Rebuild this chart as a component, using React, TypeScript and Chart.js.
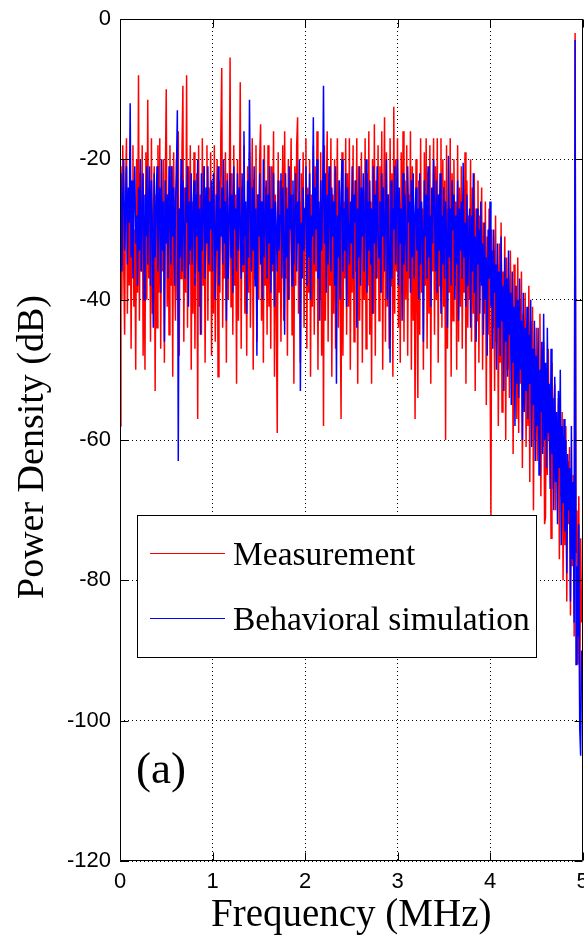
import { useEffect, useRef } from "react";
import { Chart, registerables } from "chart.js";

Chart.register(...registerables);

// Frequency bins are spaced 0.01 MHz apart, starting at 0 MHz.
const FREQ_STEP_MHZ = 0.01;

// Measured power density (dB), red trace (one row = 0.1 MHz)
const measurement: number[] = [
  -58, -21, -40, -18, -35, -45, -24, -17, -42, -27,
  -38, -19, -47, -26, -18, -41, -30, -50, -20, -39,
  -8, -43, -22, -36, -18, -48, -28, -50, -19, -40,
  -11.5, -37, -24, -46, -17, -42, -29, -21, -53, -25,
  -44, -18, -39, -17, -47, -26, -36, -20, -49, -23,
  -10, -41, -25, -45, -18, -38, -21, -51, -19, -34,
  -43, -20, -40, -16, -48, -27, -37, -19, -9.5, -46,
  -24, -39, -8, -44, -21, -35, -18, -50, -26, -42,
  -19, -47, -29, -22, -57, -18, -41, -25, -45, -17,
  -38, -21, -49, -27, -18, -43, -24, -36, -19, -48,
  -25, -42, -18, -46, -29, -20, -51, -23, -39, -17,
  -7, -44, -26, -37, -19, -49, -22, -40, -30, -5.5,
  -41, -22, -45, -18, -38, -25, -52, -20, -43, -28,
  -9, -47, -24, -36, -18, -42, -27, -48, -21, -39,
  -19, -44, -29, -17, -50, -23, -37, -18, -46, -25,
  -40, -20, -15, -43, -26, -49, -18, -38, -24, -45,
  -18, -41, -28, -47, -21, -36, -16, -51, -25, -42,
  -59, -19, -39, -23, -46, -29, -18, -43, -16, -37,
  -24, -48, -20, -40, -28, -17, -45, -25, -52, -21,
  -38, -18, -14, -42, -26, -49, -22, -36, -19, -44,
  -29, -17, -47, -24, -39, -20, -51, -25, -41, -18,
  -45, -21, -36, -16, -50, -27, -40, -19, -48, -23,
  -58, -18, -43, -26, -16, -46, -22, -38, -17, -51,
  -25, -42, -20, -47, -29, -17, -44, -23, -39, -57,
  -19, -48, -26, -37, -17, -45, -22, -41, -17, -50,
  -27, -39, -18, -46, -23, -36, -17, -52, -21, -43,
  -30, -19, -49, -25, -40, -17, -47, -22, -38, -16,
  -45, -26, -52, -20, -42, -15, -48, -23, -37, -18,
  -43, -21, -39, -16, -50, -27, -14, -46, -19, -41,
  -25, -47, -17, -38, -22, -51, -12.5, -42, -20, -36,
  -17, -44, -26, -49, -19, -39, -16, -46, -23, -40,
  -18, -48, -25, -37, -16, -50, -21, -43, -28, -57,
  -20, -41, -54, -23, -45, -17, -39, -27, -50, -19,
  -38, -17, -47, -22, -42, -18, -52, -26, -36, -17,
  -45, -21, -40, -17, -49, -25, -38, -17, -44, -20,
  -41, -23, -60, -18, -47, -27, -39, -17, -51, -22,
  -43, -20, -38, -26, -50, -18, -46, -24, -41, -21,
  -47, -25, -39, -19, -52, -23, -44, -28, -40, -20,
  -46, -24, -42, -22, -53, -27, -43, -23, -49, -28,
  -36, -24, -50, -29, -42, -26, -55, -31, -45, -27,
  -48, -71, -30, -44, -33, -53, -28, -46, -35, -58,
  -32, -49, -29, -56, -36, -45, -31, -60, -34, -50,
  -37, -54, -33, -47, -39, -62, -35, -51, -38, -57,
  -34, -59, -40, -52, -36, -64, -42, -55, -39, -61,
  -45, -58, -38, -66, -43, -55, -41, -70, -47, -60,
  -44, -63, -49, -57, -42, -68, -51, -61, -46, -72,
  -71, -50, -65, -47, -60, -53, -74, -49, -67, -55,
  -52, -70, -57, -64, -54, -77, -59, -68, -56, -80,
  -60, -75, -58, -83, -63, -72, -61, -85, -66, -78,
  -65, -88, -2, -76, -70, -92, -68, -98, -74, -86,
  -82,
];

// Behavioral simulation power density (dB), blue trace (one row = 0.1 MHz)
const simulation: number[] = [
  -31, -22, -36, -25, -20, -33, -27, -21, -35, -24,
  -29, -12, -34, -23, -37, -26, -21, -32, -28, -38,
  -24, -33, -20, -36, -27, -22, -40, -25, -31, -21,
  -35, -26, -21, -38, -23, -30, -44, -22, -34, -27,
  -21, -36, -28, -24, -39, -20, -33, -26, -46, -23,
  -32, -25, -37, -21, -29, -35, -21, -31, -24, -38,
  -26, -22, -13, -63, -27, -34, -20, -36, -23, -30,
  -37, -24, -29, -21, -41, -26, -33, -22, -35, -28,
  -23, -38, -25, -31, -20, -36, -27, -45, -22, -33,
  -28, -21, -37, -24, -32, -21, -35, -26, -30, -23,
  -36, -22, -29, -40, -25, -33, -21, -38, -27, -31,
  -24, -35, -20, -32, -26, -43, -23, -37, -28, -22,
  -34, -25, -39, -21, -30, -27, -36, -22, -33, -24,
  -29, -37, -22, -35, -16, -31, -26, -42, -23, -34,
  -11.5, -28, -36, -24, -33, -21, -38, -27, -48, -25,
  -31, -22, -35, -26, -40, -20, -34, -29, -23, -37,
  -25, -32, -21, -39, -27, -35, -22, -41, -26, -30,
  -36, -23, -33, -28, -22, -37, -24, -31, -45, -22,
  -34, -27, -40, -21, -30, -25, -38, -23, -35, -28,
  -22, -36, -26, -32, -20, -53, -29, -37, -24, -33,
  -27, -21, -38, -25, -34, -22, -40, -28, -31, -14,
  -35, -24, -30, -20, -37, -26, -43, -23, -33, -27,
  -9.5, -32, -22, -39, -25, -35, -21, -29, -36, -24,
  -31, -26, -38, -21, -52, -28, -34, -23, -40, -25,
  -20, -36, -27, -33, -22, -41, -24, -30, -35, -26,
  -32, -21, -37, -25, -29, -23, -44, -27, -34, -21,
  -38, -24, -31, -22, -36, -28, -20, -39, -26, -33,
  -23, -35, -27, -42, -21, -32, -25, -37, -21, -30,
  -34, -26, -39, -22, -31, -24, -36, -28, -20, -40,
  -25, -33, -49, -23, -37, -27, -30, -21, -35, -26,
  -20, -38, -24, -32, -27, -43, -22, -35, -25, -31,
  -36, -21, -29, -26, -39, -23, -34, -22, -37, -28,
  -24, -33, -27, -40, -22, -35, -26, -30, -46, -23,
  -31, -25, -37, -21, -34, -28, -41, -24, -32, -20,
  -27, -36, -23, -39, -25, -33, -22, -42, -28, -35,
  -24, -37, -26, -31, -44, -19.5, -34, -27, -38, -23,
  -30, -25, -40, -28, -35, -23, -43, -27, -33, -26,
  -37, -20.5, -34, -29, -41, -25, -38, -31, -27, -44,
  -28, -36, -22, -39, -31, -46, -27, -35, -30, -42,
  -26, -38, -32, -45, -29, -40, -34, -48, -30, -37,
  -26, -41, -33, -47, -30, -39, -35, -50, -32, -44,
  -36, -48, -31, -43, -38, -53, -34, -46, -37, -51,
  -33, -45, -39, -55, -36, -49, -41, -58, -38, -52,
  -40, -54, -37, -50, -43, -60, -39, -56, -44, -53,
  -41, -57, -45, -52, -40, -61, -47, -55, -43, -63,
  -48, -58, -44, -65, -50, -56, -46, -62, -42, -60,
  -49, -64, -44, -59, -52, -67, -47, -62, -54, -70,
  -51, -66, -56, -72, -53, -64, -50, -75, -58, -69,
  -57, -73, -60, -79, -62, -70, -64, -83, -58, -77,
  -66, -86, -3, -92, -78, -88, -72, -101, -105, -90,
  -95,
];

const frequencies: number[] = measurement.map((_, i) => +(i * FREQ_STEP_MHZ).toFixed(2));

const xTickValues = [0, 1, 2, 3, 4, 5];
const yTickValues = [0, -20, -40, -60, -80, -100, -120];
const seriesLabels = ["Measurement", "Behavioral simulation"];
const seriesColors = ["#ff0000", "#0000ff"];
const xTitle = "Frequency (MHz)";
const yTitle = "Power Density (dB)";
const panelLabel = "(a)";

const SERIF = "'Liberation Serif', 'Times New Roman', serif";
const SANS = "'Liberation Sans', Arial, sans-serif";

const framePlugin = {
  id: "matlabFrame",
  afterDraw(chart: any) {
    const { ctx, chartArea, scales } = chart;
    const { left, top, right, bottom } = chartArea;
    const x = scales.x;
    const y = scales.y;
    ctx.save();
    ctx.strokeStyle = "#000";
    ctx.lineWidth = 1;
    const L = Math.round(left) + 0.5;
    const T = Math.round(top) + 0.5;
    const R = Math.round(right) - 0.5;
    const B = Math.round(bottom) - 0.5;
    ctx.beginPath();
    ctx.rect(L, T, R - L, B - T);
    ctx.stroke();
    const tl = 8;
    ctx.beginPath();
    xTickValues.forEach((v) => {
      const px = Math.round(x.getPixelForValue(v)) + 0.5;
      ctx.moveTo(px, B);
      ctx.lineTo(px, B - tl);
      ctx.moveTo(px, T);
      ctx.lineTo(px, T + tl);
    });
    yTickValues.forEach((v) => {
      const py = Math.round(y.getPixelForValue(v)) + 0.5;
      ctx.moveTo(L, py);
      ctx.lineTo(L + tl, py);
      ctx.moveTo(R, py);
      ctx.lineTo(R - tl, py);
    });
    ctx.stroke();

    // Legend box
    const lx = 137, ly = 515, lw = 399, lh = 142;
    ctx.fillStyle = "#fff";
    ctx.fillRect(lx, ly, lw, lh);
    ctx.strokeStyle = "#000";
    ctx.strokeRect(lx + 0.5, ly + 0.5, lw, lh);
    const rows = [553, 618];
    ctx.font = `33.5px ${SERIF}`;
    ctx.textAlign = "left";
    ctx.textBaseline = "alphabetic";
    seriesLabels.forEach((label, i) => {
      ctx.strokeStyle = seriesColors[i];
      ctx.lineWidth = 1;
      ctx.beginPath();
      ctx.moveTo(150, rows[i] + 0.5);
      ctx.lineTo(225, rows[i] + 0.5);
      ctx.stroke();
      ctx.fillStyle = "#000";
      ctx.fillText(label, 233, rows[i] + 12);
    });

    // Panel label
    ctx.font = `45px ${SERIF}`;
    ctx.fillStyle = "#000";
    ctx.fillText(panelLabel, 136, 783);

    // X title
    ctx.font = `39px ${SERIF}`;
    ctx.textAlign = "center";
    ctx.fillText(xTitle, (left + right) / 2, 926);

    // Y title
    ctx.font = `38px ${SERIF}`;
    ctx.save();
    ctx.translate(43, 447);
    ctx.rotate(-Math.PI / 2);
    ctx.textAlign = "center";
    ctx.fillText(yTitle, 0, 0);
    ctx.restore();

    ctx.restore();
  },
};

export default function App() {
  const ref = useRef<HTMLCanvasElement | null>(null);

  useEffect(() => {
    document.body.style.margin = "0";
    const canvas = ref.current;
    if (!canvas) return;
    const chart = new Chart(canvas, {
      type: "line",
      data: {
        datasets: [
          {
            label: seriesLabels[0],
            data: frequencies.map((f, i) => ({ x: f, y: measurement[i] })),
            borderColor: seriesColors[0],
            borderWidth: 1.5,
            pointRadius: 0,
            tension: 0,
            fill: false,
            order: 2,
          },
          {
            label: seriesLabels[1],
            data: frequencies.map((f, i) => ({ x: f, y: simulation[i] })),
            borderColor: seriesColors[1],
            borderWidth: 1.5,
            pointRadius: 0,
            tension: 0,
            fill: false,
            order: 1,
          },
        ],
      },
      options: {
        animation: false,
        responsive: false,
        devicePixelRatio: 1,
        layout: { padding: { top: 19, right: 1.5, left: 0, bottom: 0 } },
        plugins: {
          legend: { display: false },
          tooltip: { enabled: false },
        },
        scales: {
          x: {
            type: "linear",
            min: 0,
            max: 5,
            afterBuildTicks: (s: any) => {
              s.ticks = xTickValues.map((v) => ({ value: v }));
            },
            ticks: {
              autoSkip: false,
              maxRotation: 0,
              padding: 8,
              color: "#000",
              font: { family: SANS, size: 22 },
              callback: (v: any) => String(v),
            },
            grid: { color: "#000", lineWidth: 1, drawTicks: false },
            border: { display: false, dash: [1, 3] },
            afterFit: (s: any) => {
              s.height = 80;
              s.paddingLeft = 0;
              s.paddingRight = 0;
            },
          },
          y: {
            type: "linear",
            min: -120,
            max: 0,
            afterBuildTicks: (s: any) => {
              s.ticks = yTickValues.map((v) => ({ value: v }));
            },
            ticks: {
              autoSkip: false,
              padding: 9,
              color: "#000",
              font: { family: SANS, size: 22 },
              callback: (v: any) => String(v),
            },
            grid: { color: "#000", lineWidth: 1, drawTicks: false },
            border: { display: false, dash: [1, 3] },
            afterFit: (s: any) => {
              s.width = 120;
              s.paddingTop = 0;
              s.paddingBottom = 0;
            },
          },
        },
      },
      plugins: [framePlugin],
    });
    return () => chart.destroy();
  }, []);

  return (
    <div style={{ position: "absolute", left: 0, top: 0, width: 584, height: 941, background: "#fff" }}>
      <canvas ref={ref} width={584} height={941} style={{ display: "block", width: 584, height: 941 }} />
    </div>
  );
}
